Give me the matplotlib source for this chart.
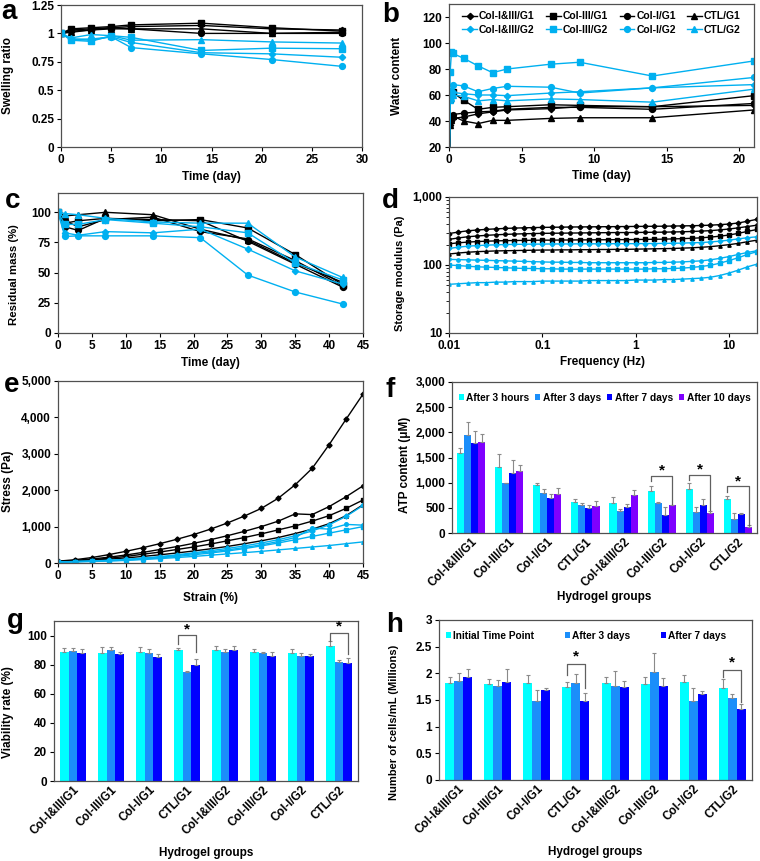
import numpy as np
import matplotlib
matplotlib.use('Agg')
import matplotlib.pyplot as plt
from matplotlib.ticker import FuncFormatter, FixedLocator, LogLocator, NullFormatter

plt.rcParams['font.family'] = ['Liberation Sans', 'DejaVu Sans']
plt.rcParams['font.weight'] = 'bold'
plt.rcParams['axes.labelweight'] = 'bold'
plt.rcParams['font.size'] = 8

# ---------------- data ----------------
groups = ['Col-I&III/G1', 'Col-III/G1', 'Col-I/G1', 'CTL/G1',
          'Col-I&III/G2', 'Col-III/G2', 'Col-I/G2', 'CTL/G2']

# (a) swelling ratio
a_time = [0, 1, 3, 5, 7, 14, 21, 28]
a_g1_13 = [1, 1.03, 1.04, 1.05, 1.06, 1.07, 1.04, 1.03]
a_g1_3 = [1, 1.04, 1.05, 1.06, 1.075, 1.09, 1.05, 1.02]
a_g1_1 = [1, 1.02, 1.03, 1.05, 1.04, 1.00, 1.00, 1.00]
a_g1_c = [1, 1.01, 1.03, 1.04, 1.04, 1.04, 1.00, 1.01]
a_g2_13 = [1, 0.95, 0.95, 0.97, 0.92, 0.83, 0.82, 0.79]
a_g2_3 = [1, 0.94, 0.93, 0.98, 0.965, 0.85, 0.87, 0.865]
a_g2_1 = [1, 0.95, 0.94, 0.97, 0.875, 0.82, 0.77, 0.71]
a_g2_c = [1, 0.96, 0.99, 0.98, 0.94, 0.945, 0.925, 0.915]

# (b) water content
b_time = [0, 0.08, 0.17, 0.25, 1, 2, 3, 4, 7, 9, 14, 21]
b_g1_13 = [0, 37, 40, 42, 43, 45.5, 47, 48.5, 49.5, 51, 51, 52]
b_g1_3 = [0, 57, 61, 62, 56, 49, 50.5, 51, 52.5, 52, 51, 59.5]
b_g1_1 = [0, 40, 43, 45, 46, 47, 47.5, 49, 50.5, 50.5, 49, 53.5]
b_g1_c = [0, 37, 41, 44, 40, 38, 40.5, 40.5, 42, 42.5, 42.5, 48.5]
b_g2_13 = [0, 58, 60, 62, 61, 60, 60, 59.5, 61.5, 62.5, 65.5, 68]
b_g2_3 = [0, 78, 93, 92, 88.3, 82.4, 77.2, 80, 83.7, 85.2, 74.6, 86.2]
b_g2_1 = [0, 57, 63, 68, 67, 62.5, 65, 66.7, 66, 61.5, 65.5, 73.5]
b_g2_c = [0, 56, 58, 60, 59, 55.5, 56.5, 55.5, 57, 56.5, 54.5, 64.5]

# (c) residual mass
c_time = [0, 1, 3, 7, 14, 21, 28, 35, 42]
c_g1_13 = [100, 93, 88, 94, 96, 84, 78, 60, 39]
c_g1_3 = [100, 91, 93, 95, 93, 94, 87, 65, 40]
c_g1_1 = [100, 88, 85, 95, 94, 93, 76, 57, 38]
c_g1_c = [100, 97, 98, 100, 98, 86, 77, 58, 42]
c_g2_13 = [100, 83, 81, 84, 83, 86, 69.5, 51.5, 40.5]
c_g2_3 = [100, 90, 90, 94, 91, 88, 83, 58, 44]
c_g2_1 = [100, 80, 80.5, 80.5, 80.5, 79, 48, 34, 24]
c_g2_c = [100, 99, 98, 95, 92, 91, 91, 63, 46]

# (d) storage modulus
d_freq = [0.01, 0.0126, 0.0158, 0.02, 0.0251, 0.0316, 0.0398, 0.0501, 0.0631, 0.0794,
          0.1, 0.126, 0.158, 0.2, 0.251, 0.316, 0.398, 0.501, 0.631, 0.794,
          1, 1.26, 1.58, 2, 2.51, 3.16, 3.98, 5.01, 6.31, 7.94,
          10, 12.6, 15.8, 20]
d_g1_13 = [290, 305, 318, 327, 334, 340, 345, 349, 352, 355, 357, 359, 360, 362, 363, 364, 365, 366, 367, 368,
           369, 370, 371, 372, 374, 376, 378, 381, 385, 392, 400, 415, 440, 470]
d_g1_1 = [238, 250, 260, 267, 273, 278, 282, 285, 288, 290, 292, 293, 294, 295, 296, 297, 298, 299, 300, 300,
          301, 302, 303, 304, 306, 308, 311, 315, 320, 328, 338, 352, 368, 385]
d_g1_3 = [205, 212, 217, 221, 224, 226, 228, 229, 230, 231, 232, 232, 233, 233, 234, 234, 235, 235, 236, 236,
          237, 238, 239, 240, 242, 244, 247, 251, 257, 265, 276, 292, 312, 333]
d_g1_c = [145, 150, 154, 157, 159, 161, 162, 163, 164, 165, 166, 166, 167, 167, 168, 168, 169, 169, 170, 170,
          171, 172, 173, 174, 175, 177, 179, 182, 186, 192, 199, 208, 220, 232]
d_g2_13 = [175, 183, 189, 193, 196, 198, 200, 201, 202, 203, 203, 204, 204, 204, 205, 205, 205, 205, 206, 206,
           206, 207, 207, 208, 209, 210, 212, 214, 218, 224, 232, 242, 252, 260]
d_g2_1 = [121, 120, 119, 118, 117, 116, 115, 114, 113, 112, 111, 110, 110, 109, 109, 108, 108, 108, 108, 108,
          108, 108, 109, 109, 110, 111, 113, 115, 119, 125, 133, 143, 153, 162]
d_g2_3 = [100, 98, 96, 94, 93, 92, 91, 90, 89, 89, 88, 88, 87, 87, 87, 87, 87, 87, 87, 87,
          87, 87, 88, 88, 89, 90, 92, 95, 99, 106, 116, 128, 143, 157]
d_g2_c = [52, 53, 54, 55, 55, 56, 56, 57, 57, 57, 58, 58, 58, 58, 58, 59, 59, 59, 59, 59,
          60, 60, 60, 61, 61, 62, 63, 64, 66, 70, 76, 84, 94, 103]

# (e) stress-strain
e_strain = [0, 2.5, 5, 7.5, 10, 12.5, 15, 17.5, 20, 22.5, 25, 27.5, 30, 32.5, 35, 37.5, 40, 42.5, 45]
e_g1_13 = [50, 90, 150, 230, 320, 420, 530, 650, 780, 930, 1100, 1290, 1500, 1780, 2150, 2600, 3250, 3950, 4640]
e_g1_1 = [40, 70, 110, 160, 220, 290, 370, 450, 540, 640, 750, 870, 1000, 1150, 1350, 1330, 1550, 1820, 2120]
e_g1_3 = [40, 60, 90, 130, 180, 240, 300, 370, 440, 520, 610, 700, 800, 910, 1020, 1150, 1300, 1500, 1730]
e_g1_c = [30, 50, 75, 105, 140, 180, 225, 275, 330, 390, 455, 530, 610, 700, 810, 930, 1080, 1300, 1600]
e_g2_13 = [30, 40, 55, 75, 100, 135, 175, 225, 280, 340, 400, 470, 550, 640, 750, 880, 1050, 1280, 1580]
e_g2_1 = [30, 40, 52, 70, 92, 122, 160, 205, 255, 305, 360, 425, 500, 590, 700, 960, 930, 1060, 1040]
e_g2_3 = [30, 38, 48, 62, 80, 108, 140, 180, 225, 275, 330, 395, 470, 550, 640, 730, 820, 910, 1000]
e_g2_c = [20, 30, 40, 55, 70, 95, 120, 150, 180, 215, 250, 285, 320, 360, 400, 440, 480, 530, 580]

# (f) ATP content
f_labels = ['After 3 hours', 'After 3 days', 'After 7 days', 'After 10 days']
f_3h = [1590, 1320, 960, 620, 590, 840, 875, 670]
f_3d = [1940, 990, 800, 560, 430, 590, 415, 280]
f_7d = [1780, 1200, 700, 500, 510, 365, 565, 385]
f_10d = [1800, 1230, 770, 540, 750, 550, 405, 122]
f_3h_err = [100, 250, 40, 60, 130, 90, 120, 70]
f_3d_err = [260, 10, 70, 30, 50, 20, 100, 120]
f_7d_err = [240, 260, 80, 60, 70, 150, 120, 20]
f_10d_err = [160, 120, 130, 100, 110, 15, 40, 40]

# (g) viability
g_labels = ['Initial Time Point', 'After 3 days', 'After 7 days']
g_0 = [89, 88, 89, 90, 90, 89, 88, 93]
g_3 = [89.5, 90, 88, 75, 89, 88, 86, 82]
g_7 = [88, 87, 85, 80, 90, 86, 86, 81]
g_0_err = [2.5, 4, 3, 1.5, 3, 2, 3, 3]
g_3_err = [2, 2, 2.5, 0.5, 2, 1, 2, 1.5]
g_7_err = [2.5, 2, 2.5, 4, 2.5, 3, 1, 3.5]

# (h) cell number
h_0 = [1.81, 1.80, 1.82, 1.75, 1.81, 1.80, 1.83, 1.72]
h_3 = [1.85, 1.77, 1.48, 1.81, 1.77, 2.03, 1.49, 1.53]
h_7 = [1.93, 1.83, 1.69, 1.49, 1.75, 1.77, 1.61, 1.34]
h_0_err = [0.12, 0.10, 0.14, 0.08, 0.13, 0.14, 0.13, 0.18]
h_3_err = [0.16, 0.10, 0.20, 0.18, 0.28, 0.35, 0.23, 0.08]
h_7_err = [0.16, 0.26, 0.04, 0.15, 0.10, 0.15, 0.06, 0.08]

# ---------------- style ----------------
BLACK = '#000000'
BLUE = '#00B0F0'
BAR_COLORS = ['#00FFFF', '#1B8EFA', '#0000FF', '#7F00FF']
MARKERS = ['D', 's', 'o', '^']
MSIZE = [3.2, 4.2, 4.2, 4.5]
SPINE = '#505050'

W, H = 760, 861
fig = plt.figure(figsize=(7.6, 8.61), dpi=100)


def add_ax(x0, y0, x1, y1):
    return fig.add_axes([x0 / W, 1 - y1 / H, (x1 - x0) / W, (y1 - y0) / H])


def style(ax):
    for s in ax.spines.values():
        s.set_color(SPINE)
        s.set_linewidth(0.9)
    ax.tick_params(direction='out', length=3, width=0.8, colors='black', labelsize=8.5, pad=2)
    for lab in ax.get_xticklabels() + ax.get_yticklabels():
        lab.set_fontweight('bold')


def letter(x, ybase, s):
    fig.text(x / W, 1 - ybase / H, s, fontsize=20, fontweight='bold', va='baseline', ha='left')


def set_xlabel(ax, text, ytop_px, axb, axh, size=8.5):
    ax.set_xlabel(text, fontsize=size, fontweight='bold')
    ax.xaxis.set_label_coords(0.5, -(ytop_px - axb) / axh)


def set_ylabel(ax, text, xright_px, axl, axw, size=8.5, yfrac=0.5):
    ax.set_ylabel(text, fontsize=size, fontweight='bold')
    ax.yaxis.set_label_coords(-(axl - xright_px) / axw, yfrac)


comma = FuncFormatter(lambda v, p: f'{int(v):,}')
plain = FuncFormatter(lambda v, p: ('%g' % v))

# ---------------- (a) ----------------
ax = add_ax(61, 5, 362, 147)
g1 = [a_g1_13, a_g1_3, a_g1_1, a_g1_c]
g2 = [a_g2_13, a_g2_3, a_g2_1, a_g2_c]
for i in range(4):
    ax.plot(a_time, g1[i], color=BLACK, marker=MARKERS[i], ms=MSIZE[i], lw=1.0)
for i in range(4):
    ax.plot(a_time, g2[i], color=BLUE, marker=MARKERS[i], ms=MSIZE[i], lw=1.0)
ax.set_xlim(0, 30)
ax.set_ylim(0, 1.25)
ax.set_xticks(range(0, 31, 5))
ax.set_yticks([0, 0.25, 0.5, 0.75, 1, 1.25])
ax.yaxis.set_major_formatter(plain)
style(ax)
set_xlabel(ax, 'Time (day)', 171, 147, 142)
set_ylabel(ax, 'Swelling ratio', 14, 61, 301)
letter(1, 19, 'a')

# ---------------- (b) ----------------
ax = add_ax(449, 4, 754, 147)
g1 = [b_g1_13, b_g1_3, b_g1_1, b_g1_c]
g2 = [b_g2_13, b_g2_3, b_g2_1, b_g2_c]
h1, h2 = [], []
for i in range(4):
    l, = ax.plot(b_time, g1[i], color=BLACK, marker=MARKERS[i], ms=MSIZE[i], lw=1.0,
                 label=groups[i])
    h1.append(l)
for i in range(4):
    l, = ax.plot(b_time, g2[i], color=BLUE, marker=MARKERS[i], ms=MSIZE[i], lw=1.0,
                 label=groups[4 + i])
    h2.append(l)
ax.set_xlim(0, 21)
ax.set_ylim(20, 130)
ax.set_xticks([0, 5, 10, 15, 20])
ax.set_yticks(range(20, 121, 20))
style(ax)
handles = []
for i in range(4):
    handles += [h1[i], h2[i]]
ax.legend(handles=handles, labels=[h.get_label() for h in handles], ncol=4, frameon=False,
          loc='upper center', bbox_to_anchor=(0.5, 1.0), handlelength=1.4,
          columnspacing=1.1, handletextpad=0.2, labelspacing=0.35, borderaxespad=0.3,
          prop={'weight': 'bold', 'size': 7.5})
set_xlabel(ax, 'Time (day)', 170, 147, 143)
set_ylabel(ax, 'Water content', 403, 449, 305)
letter(382, 22, 'b')

# ---------------- (c) ----------------
ax = add_ax(58, 193, 363, 333)
g1 = [c_g1_13, c_g1_3, c_g1_1, c_g1_c]
g2 = [c_g2_13, c_g2_3, c_g2_1, c_g2_c]
for i in range(4):
    ax.plot(c_time, g1[i], color=BLACK, marker=MARKERS[i], ms=MSIZE[i], lw=1.0)
for i in range(4):
    ax.plot(c_time, g2[i], color=BLUE, marker=MARKERS[i], ms=MSIZE[i], lw=1.0)
ax.set_xlim(0, 45)
ax.set_ylim(0, 116)
ax.set_xticks(range(0, 46, 5))
ax.set_yticks([0, 25, 50, 75, 100])
style(ax)
set_xlabel(ax, 'Time (day)', 357, 333, 140)
set_ylabel(ax, 'Residual mass (%)', 19, 58, 305, size=8.2, yfrac=0.42)
letter(5, 208, 'c')

# ---------------- (d) ----------------
ax = add_ax(449, 197, 757, 333)
g1 = [d_g1_13, d_g1_3, d_g1_1, d_g1_c]
g2 = [d_g2_13, d_g2_3, d_g2_1, d_g2_c]
for i in range(4):
    ax.plot(d_freq, g1[i], color=BLACK, marker=MARKERS[i], ms=2.4, lw=1.0)
for i in range(4):
    ax.plot(d_freq, g2[i], color=BLUE, marker=MARKERS[i], ms=2.4, lw=1.0)
ax.set_xscale('log')
ax.set_yscale('log')
ax.set_xlim(0.01, 20)
ax.set_ylim(10, 1000)
ax.xaxis.set_major_locator(FixedLocator([0.01, 0.1, 1, 10]))
ax.xaxis.set_major_formatter(plain)
ax.xaxis.set_minor_formatter(NullFormatter())
ax.tick_params(axis='x', which='minor', length=0)
ax.yaxis.set_major_locator(FixedLocator([10, 100, 1000]))
ax.yaxis.set_major_formatter(comma)
ax.yaxis.set_minor_locator(LogLocator(base=10, subs=np.arange(2, 10)))
ax.yaxis.set_minor_formatter(NullFormatter())
style(ax)
ax.tick_params(axis='y', which='minor', length=2, width=0.6)
set_xlabel(ax, 'Frequency (Hz)', 356, 333, 136)
set_ylabel(ax, 'Storage modulus (Pa)', 405, 449, 308, size=8, yfrac=0.44)
letter(382, 208, 'd')

# ---------------- (e) ----------------
ax = add_ax(58, 381, 363, 563)
g1 = [e_g1_13, e_g1_1, e_g1_3, e_g1_c]
g2 = [e_g2_13, e_g2_1, e_g2_3, e_g2_c]
mk_e = ['D', 'o', 's', '^']
for i in range(4):
    ax.plot(e_strain, g1[i], color=BLACK, marker=mk_e[i], ms=2.6, lw=1.0)
for i in range(4):
    ax.plot(e_strain, g2[i], color=BLUE, marker=mk_e[i], ms=2.6, lw=1.0)
ax.set_xlim(0, 45)
ax.set_ylim(0, 5000)
ax.set_xticks(range(0, 46, 5))
ax.set_yticks(range(0, 5001, 1000))
ax.yaxis.set_major_formatter(comma)
style(ax)
set_xlabel(ax, 'Strain (%)', 592, 563, 182)
set_ylabel(ax, 'Stress (Pa)', 14, 58, 305, yfrac=0.45)
letter(4, 392, 'e')


# ---------------- bar helpers ----------------
def bars(ax, series, errs, labels, width, ecolor='#8a8a8a'):
    n = len(series)
    x = np.arange(len(groups))
    conts = []
    for k in range(n):
        off = (k - (n - 1) / 2) * width
        c = ax.bar(x + off, series[k], width=width, color=BAR_COLORS[k], label=labels[k],
                   edgecolor='none', zorder=2)
        ax.errorbar(x + off, series[k], yerr=[np.zeros(len(x)), errs[k]], fmt='none',
                    ecolor=ecolor, elinewidth=0.8, capsize=1.5, capthick=0.8, zorder=3)
        conts.append(c)
    ax.set_xlim(-0.5, len(groups) - 0.5)
    ax.set_xticks(x)
    ax.set_xticklabels(groups, rotation=45, ha='right', rotation_mode='anchor', fontsize=8.5,
                       fontweight='bold')
    ax.tick_params(axis='x', length=0, pad=4)
    return conts


def bracket(ax, gi, k1, k2, n, width, ytop, yl, yr, ystar):
    x1 = gi + (k1 - (n - 1) / 2) * width
    x2 = gi + (k2 - (n - 1) / 2) * width
    ax.plot([x1, x1, x2, x2], [yl, ytop, ytop, yr], color='#606060', lw=0.9, zorder=4)
    ax.text((x1 + x2) / 2, ystar, '*', ha='center', va='center', fontsize=11, fontweight='bold')


# ---------------- (f) ----------------
ax = add_ax(452, 382, 757, 533)
wf = 0.185
conts = bars(ax, [f_3h, f_3d, f_7d, f_10d], [f_3h_err, f_3d_err, f_7d_err, f_10d_err], f_labels, wf)
ax.set_ylim(0, 3000)
ax.set_yticks(range(0, 3001, 500))
ax.yaxis.set_major_formatter(comma)
style(ax)
ax.tick_params(axis='x', length=0)
bracket(ax, 5, 0, 3, 4, wf, 1140, 1040, 575, 1235)
bracket(ax, 6, 0, 3, 4, wf, 1160, 1050, 455, 1255)
bracket(ax, 7, 0, 3, 4, wf, 930, 815, 165, 1025)
ax.legend(handles=conts, ncol=4, frameon=False, loc='upper center', bbox_to_anchor=(0.5, 0.99),
          handlelength=0.5, handleheight=0.5, handletextpad=0.25, columnspacing=0.6,
          prop={'weight': 'bold', 'size': 7.3})
set_xlabel(ax, 'Hydrogel groups', 591, 533, 151)
set_ylabel(ax, 'ATP content (\u03bcM)', 411, 452, 305, yfrac=0.45)
letter(386, 397, 'f')

# ---------------- (g) ----------------
ax = add_ax(54, 621, 358, 781)
wg = 0.23
bars(ax, [g_0, g_3, g_7], [g_0_err, g_3_err, g_7_err], g_labels, wg)
ax.set_ylim(0, 110)
ax.set_yticks(range(0, 101, 20))
style(ax)
ax.tick_params(axis='x', length=0)
bracket(ax, 3, 0, 2, 3, wg, 100.5, 94.5, 88.5, 104.5)
bracket(ax, 7, 0, 2, 3, wg, 102, 96.5, 87, 106.5)
set_xlabel(ax, 'Hydrogel groups', 847, 781, 160)
set_ylabel(ax, 'Viability rate (%)', 14, 54, 304, yfrac=0.43)
letter(7, 628, 'g')

# ---------------- (h) ----------------
ax = add_ax(439, 620, 752, 780)
wh = 0.23
conts = bars(ax, [h_0, h_3, h_7], [h_0_err, h_3_err, h_7_err], g_labels, wh)
ax.set_ylim(0, 3)
ax.set_yticks([0, 0.5, 1, 1.5, 2, 2.5, 3])
ax.yaxis.set_major_formatter(plain)
style(ax)
ax.tick_params(axis='x', length=0)
bracket(ax, 3, 0, 2, 3, wh, 2.17, 1.96, 1.72, 2.32)
bracket(ax, 7, 0, 2, 3, wh, 2.06, 1.94, 1.46, 2.21)
ax.legend(handles=conts, ncol=3, frameon=False, loc='upper center', bbox_to_anchor=(0.47, 0.99),
          handlelength=0.5, handleheight=0.5, handletextpad=0.25, columnspacing=3.0,
          prop={'weight': 'bold', 'size': 7.3})
set_xlabel(ax, 'Hydrogel groups', 846, 780, 160)
set_ylabel(ax, 'Number of cells/mL (Millions)', 399, 439, 313, size=8, yfrac=0.36)
letter(386, 632, 'h')

fig.savefig('out.png', dpi=100)
